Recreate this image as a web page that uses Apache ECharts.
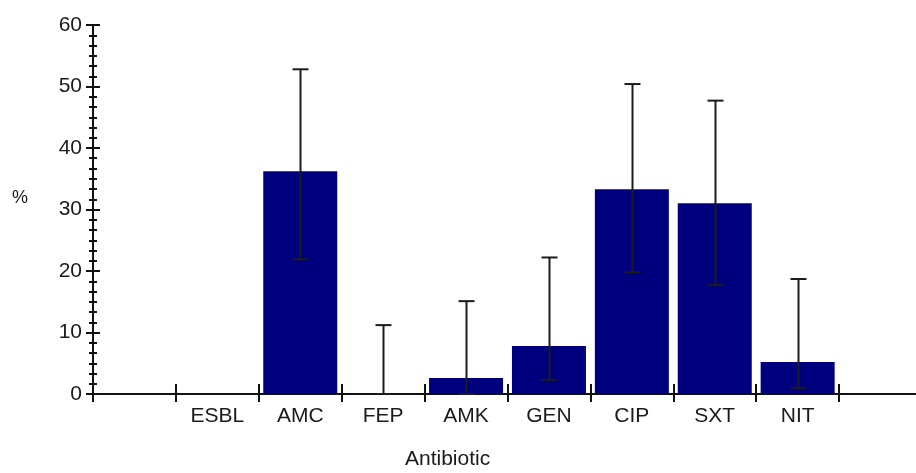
<!DOCTYPE html>
<html>
<head>
<meta charset="utf-8">
<script src="https://cdn.jsdelivr.net/npm/echarts@6/dist/echarts.min.js"></script>
<style>
html,body{margin:0;padding:0;background:#fff;}
#chart{width:916px;height:473px;}
</style>
</head>
<body>
<div id="chart"></div>
<script>
// Data
const categories = ['', 'ESBL', 'AMC', 'FEP', 'AMK', 'GEN', 'CIP', 'SXT', 'NIT', ''];
const values     = [null, null, 36.2, 0, 2.6, 7.8, 33.3, 31.0, 5.2, null];
const upperCI    = [null, null, 52.8, 11.2, 15.1, 22.2, 50.4, 47.7, 18.7, null];
const lowerCI    = [null, null, 21.9, 0, 0, 2.3, 19.8, 17.7, 1.0, null];
const yTicks     = [0, 10, 20, 30, 40, 50, 60];
const xTitle = 'Antibiotic';
const yTitle = '%';

const FONT = 'Liberation Sans, Arial, sans-serif';
const TXT = '#1a1a1a';

const errData = [];
categories.forEach((c, i) => {
  if (upperCI[i] != null && lowerCI[i] != null) errData.push([i, lowerCI[i], upperCI[i]]);
});

const chart = echarts.init(document.getElementById('chart'), null, {renderer: 'canvas'});

const yCommon = {
  type: 'value',
  min: yTicks[0],
  max: yTicks[yTicks.length - 1],
  interval: yTicks[1] - yTicks[0],
  position: 'left',
  splitLine: {show: false}
};

chart.setOption({
  animation: false,
  backgroundColor: '#fff',
  grid: {left: 93, top: 25, width: 829, height: 369, outerBoundsMode: 'none', containLabel: false},
  xAxis: [{
    type: 'category',
    data: categories,
    position: 'bottom',
    boundaryGap: true,
    axisLine: {lineStyle: {color: '#111', width: 2}},
    axisTick: {show: true, length: 8, inside: false, lineStyle: {color: '#111', width: 2}},
    axisLabel: {color: TXT, fontFamily: FONT, fontSize: 21, margin: 12, interval: 0}
  }, {
    type: 'category',
    data: categories,
    position: 'bottom',
    boundaryGap: true,
    axisLine: {show: false},
    axisTick: {show: true, length: 10, inside: true, lineStyle: {color: '#111', width: 2}},
    axisLabel: {show: false}
  }],
  yAxis: [Object.assign({}, yCommon, {
    axisLine: {show: true, lineStyle: {color: '#111', width: 2}},
    axisTick: {show: true, length: 7, inside: false, lineStyle: {color: '#111', width: 2}},
    minorTick: {show: true, splitNumber: 6, length: 4, lineStyle: {color: '#111', width: 2}},
    axisLabel: {color: TXT, fontFamily: FONT, fontSize: 21, margin: 11}
  }), Object.assign({}, yCommon, {
    axisLine: {show: false},
    axisTick: {show: true, length: 7, inside: true, lineStyle: {color: '#111', width: 2}},
    minorTick: {show: true, splitNumber: 6, length: 4, lineStyle: {color: '#111', width: 2}},
    axisLabel: {show: false}
  })],
  graphic: [{
    type: 'text', left: 405, top: 449,
    style: {text: xTitle, fill: TXT, font: '21px ' + FONT}
  }, {
    type: 'text', left: 12, top: 189,
    style: {text: yTitle, fill: TXT, font: '18px ' + FONT}
  }],
  series: [{
    type: 'bar',
    data: values,
    barWidth: 74,
    itemStyle: {color: '#00007f'}
  }, {
    type: 'custom',
    data: errData,
    z: 10,
    renderItem: function (params, api) {
      const idx = api.value(0);
      const lo = api.coord([idx, api.value(1)]);
      const hi = api.coord([idx, api.value(2)]);
      const x = Math.round(hi[0]) + 0.5;
      const cap = 8;
      const st = {stroke: '#1c1c1c', lineWidth: 2};
      return {
        type: 'group',
        children: [
          {type: 'line', shape: {x1: x, y1: hi[1], x2: x, y2: lo[1]}, style: st},
          {type: 'line', shape: {x1: x - cap, y1: hi[1], x2: x + cap, y2: hi[1]}, style: st},
          {type: 'line', shape: {x1: x - cap, y1: lo[1], x2: x + cap, y2: lo[1]}, style: st}
        ]
      };
    }
  }]
});
</script>
</body>
</html>
